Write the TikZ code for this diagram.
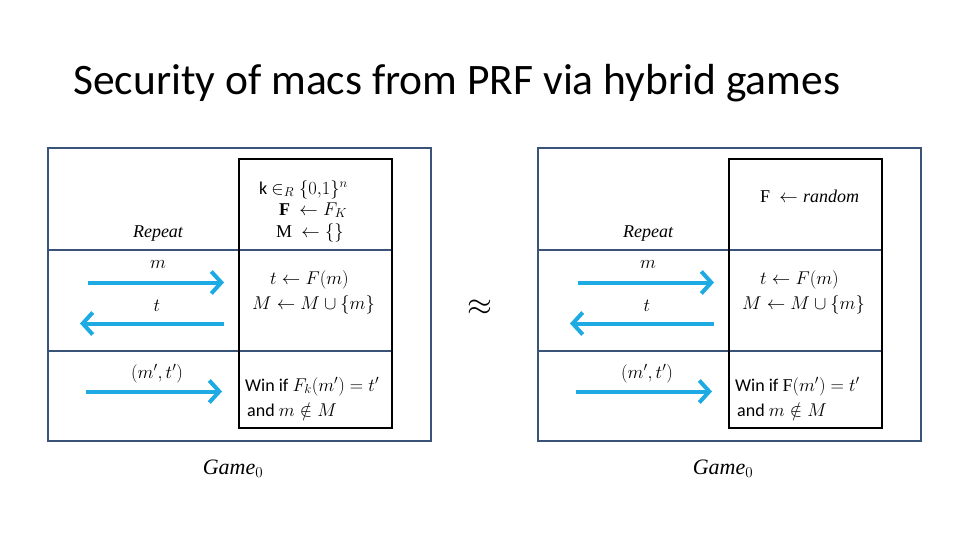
\documentclass[tikz,border=0pt]{standalone}
\usepackage{fix-cm}
\usepackage{amsmath}
\usepackage{fontspec}
\setmainfont{Carlito}
\newfontfamily\serifface{Liberation Serif}
\usetikzlibrary{arrows.meta}
\DeclareMathSizes{18}{18.5}{13}{10}
\DeclareMathSizes{22}{22}{15}{12}
\definecolor{frameblue}{RGB}{58,83,121}
\definecolor{arrowblue}{RGB}{30,170,226}
\newcommand{\sit}[1]{\text{\serifface\itshape #1}}
\newcommand{\srm}[1]{\text{\serifface #1}}
\newcommand{\sbf}[1]{\text{\serifface\bfseries #1}}
\tikzset{
  frame/.style={draw=frameblue, line width=2pt},
  innerbox/.style={draw=black, line width=2pt},
  msgarrow/.style={draw=arrowblue, line width=4pt, -{Straight Barb[length=10pt,width=22pt,line width=4pt]}},
  lbl/.style={inner sep=0pt, anchor=base, font=\fontsize{18}{21}\selectfont},
  lblw/.style={inner sep=0pt, anchor=base west, font=\fontsize{18}{21}\selectfont},
  title/.style={inner sep=0pt, anchor=base west, font=\fontsize{43.5}{50}\selectfont},
  gamelbl/.style={inner sep=0pt, anchor=base, font=\fontsize{22}{26}\selectfont},
}
\begin{document}
\begin{tikzpicture}[x=1pt,y=-1pt]
\useasboundingbox (0,0) rectangle (960,540);
\node[title] (title) at (73,95) {Security of macs from PRF via hybrid games};
% ---------- left panel
\draw[frame] (48,148) rectangle (431,441);
\draw[frame] (48,249.5) -- (391.5,249.5);
\draw[frame] (48,351) -- (391.5,351);
\draw[innerbox] (239,159) rectangle (391.5,427.5);
\node[lbl] (Lrep) at (158,237) {$\sit{Repeat}$};
\node[lbl] (Lm) at (158,268) {$m$};
\node[lbl] (Lt) at (157,311) {$t$};
\node[lbl] (Lmt) at (157,378) {$(m',t')$};
\coordinate (La1s) at (88,282.5); \coordinate (La1e) at (224,282.5);
\coordinate (La2s) at (224,323.5); \coordinate (La2e) at (80,323.5);
\coordinate (La3s) at (86,391.5); \coordinate (La3e) at (222,391.5);
\draw[msgarrow] (La1s) -- (La1e);
\draw[msgarrow] (La2s) -- (La2e);
\draw[msgarrow] (La3s) -- (La3e);
\node[lblw] (Lk) at (259,194) {k $\in_R \{0{,}1\}^n$};
\node[lblw] (LF) at (279,215) {$\sbf{F}\ \leftarrow F_K$};
\node[lblw] (LM) at (276,237) {$\srm{M}\ \leftarrow \{\}$};
\node[lblw] (Ltf) at (270,284) {$t \leftarrow F(m)$};
\node[lblw] (LMu) at (252,309) {$M \leftarrow M \cup \{m\}$};
\node[lblw] (Lwin) at (245,391) {Win if $F_k(m') = t'$};
\node[lblw] (Land) at (247,416) {and $m \notin M$};
\node[gamelbl] (Lgame) at (233,474) {$\sit{Game}_0$};
% ---------- approx
\node[inner sep=0pt, font=\fontsize{32}{36}\selectfont] (approx) at (480,308) {$\approx$};
% ---------- right panel
\draw[frame] (538,148) rectangle (921,441);
\draw[frame] (538,249.5) -- (881.5,249.5);
\draw[frame] (538,351) -- (881.5,351);
\draw[innerbox] (729,159) rectangle (881.5,427.5);
\node[lbl] (Rrep) at (648,237) {$\sit{Repeat}$};
\node[lbl] (Rm) at (648,268) {$m$};
\node[lbl] (Rt) at (647,311) {$t$};
\node[lbl] (Rmt) at (647,378) {$(m',t')$};
\coordinate (Ra1s) at (578,282.5); \coordinate (Ra1e) at (714,282.5);
\coordinate (Ra2s) at (714,323.5); \coordinate (Ra2e) at (570,323.5);
\coordinate (Ra3s) at (576,391.5); \coordinate (Ra3e) at (712,391.5);
\draw[msgarrow] (Ra1s) -- (Ra1e);
\draw[msgarrow] (Ra2s) -- (Ra2e);
\draw[msgarrow] (Ra3s) -- (Ra3e);
\node[lblw] (RF) at (760,202) {$\srm{F}\ \leftarrow \sit{random}$};
\node[lblw] (Rtf) at (760,284) {$t \leftarrow F(m)$};
\node[lblw] (RMu) at (742,309) {$M \leftarrow M \cup \{m\}$};
\node[lblw] (Rwin) at (735,391) {Win if $\srm{F}(m') = t'$};
\node[lblw] (Rand) at (737,416) {and $m \notin M$};
\node[gamelbl] (Rgame) at (723,474) {$\sit{Game}_0$};
\end{tikzpicture}
\end{document}
